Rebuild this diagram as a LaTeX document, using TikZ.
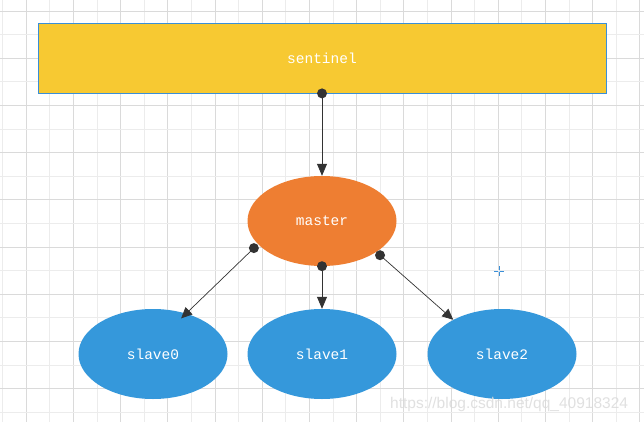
\documentclass[tikz,border=0pt]{standalone}
\usepackage{fontspec}
\setmonofont{Liberation Mono}
\setsansfont{Liberation Sans}
\usetikzlibrary{shapes.geometric,arrows.meta}
\definecolor{sentfill}{HTML}{F7C932}
\definecolor{sentdraw}{HTML}{3A8FD8}
\definecolor{masterfill}{HTML}{EE7E32}
\definecolor{slavefill}{HTML}{3598DB}
\definecolor{gridA}{HTML}{DADADA}
\definecolor{gridB}{HTML}{ECECEC}
\definecolor{linec}{HTML}{333333}
\tikzset{
  ell/.style={ellipse, minimum width=149pt, minimum height=90pt, inner sep=0pt,
    text=white, font=\ttfamily\fontsize{14.5}{16}\selectfont},
  slavenode/.style={ell, fill=slavefill},
  conn/.style={draw=linec, line width=0.8pt, -{Triangle[length=12pt,width=10pt]}},
  dconn/.style={draw=linec, line width=0.7pt, -{Triangle[length=11pt,width=10pt]}},
  dot/.style={fill=linec}
}
\begin{document}
\begin{tikzpicture}[x=1pt,y=-1pt]
\useasboundingbox (0,0) rectangle (644,422);
\fill[white] (0,0) rectangle (644,422);
% grid
\foreach \k in {0,...,27} {
  \pgfmathsetmacro{\xx}{2.5+23.6*\k}
  \pgfmathtruncatemacro{\odd}{mod(\k,2)}
  \ifnum\odd=1 \draw[gridA, line width=0.8pt] (\xx,0) -- (\xx,422);
  \else \draw[gridB, line width=0.8pt] (\xx,0) -- (\xx,422); \fi
}
\foreach \k in {0,...,17} {
  \pgfmathsetmacro{\yy}{11+23.6*\k}
  \pgfmathtruncatemacro{\odd}{mod(\k,2)}
  \ifnum\odd=0 \draw[gridA, line width=0.8pt] (0,\yy) -- (644,\yy);
  \else \draw[gridB, line width=0.8pt] (0,\yy) -- (644,\yy); \fi
}
% nodes
\node[rectangle, fill=sentfill, draw=sentdraw, line width=0.8pt, minimum width=568pt, minimum height=70pt,
  inner sep=0pt, text=white, font=\ttfamily\fontsize{14.5}{16}\selectfont] (sentinel) at (322,58) {\raisebox{-2pt}{sentinel}};
\node[ell, fill=masterfill] (master) at (322,221) {master};
\node[slavenode] (slave0) at (153,354) {slave0};
\node[slavenode] (slave1) at (322,354) {slave1};
\node[slavenode] (slave2) at (502,354) {slave2};
% connector end points (pt shifts: positive y is up)
\coordinate (mL) at ([shift={(-6pt,-2pt)}]master.202);
\coordinate (mR) at ([shift={(4pt,-3pt)}]master.330);
\coordinate (s0) at ([shift={(-1pt,-6pt)}]slave0.55);
\coordinate (s2) at ([shift={(-2pt,-1pt)}]slave2.143);
% connectors
\draw[conn] (sentinel.south) -- (master.north);
\draw[dconn] (mL) -- (s0);
\draw[conn] (master.south) -- (slave1.north);
\draw[dconn] (mR) -- (s2);
\fill[dot] (sentinel.south) circle (5pt);
\fill[dot] (mL) circle (5pt);
\fill[dot] (master.south) circle (5pt);
\fill[dot] (mR) circle (5pt);
% crosshair
\coordinate (cross) at (499,271);
\draw[sentdraw, line width=1pt] ([xshift=-5pt]cross) -- ([xshift=5pt]cross);
\draw[sentdraw, line width=1pt] ([yshift=-5pt]cross) -- ([yshift=5pt]cross);
\fill[white] (cross) circle (1.2pt);
% watermark
\node[anchor=west, inner sep=0pt, text=gray!30, opacity=0.8, font=\sffamily\fontsize{15.5}{17}\selectfont] (wm) at (390,404) {https://blog.csdn.net/qq\_40918324};
\end{tikzpicture}
\end{document}
